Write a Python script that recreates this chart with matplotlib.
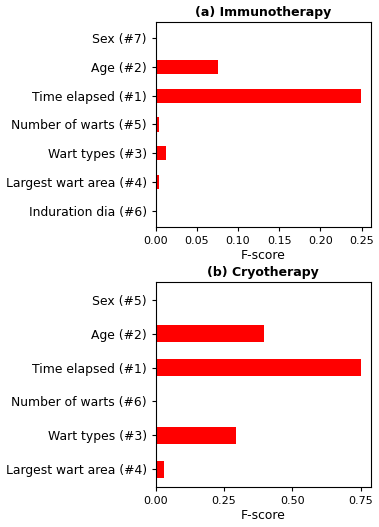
import matplotlib
matplotlib.use("Agg")
import matplotlib.pyplot as plt

immuno_labels = ["Sex (#7)", "Age (#2)", "Time elapsed (#1)", "Number of warts (#5)",
                 "Wart types (#3)", "Largest wart area (#4)", "Induration dia (#6)"]
immuno_values = [0.0, 0.076, 0.249, 0.0045, 0.013, 0.0045, 0.001]
immuno_ticks = [0.00, 0.05, 0.10, 0.15, 0.20, 0.25]

cryo_labels = ["Sex (#5)", "Age (#2)", "Time elapsed (#1)", "Number of warts (#6)",
               "Wart types (#3)", "Largest wart area (#4)"]
cryo_values = [0.005, 0.395, 0.75, 0.004, 0.295, 0.032]
cryo_ticks = [0.00, 0.25, 0.50, 0.75]

W, H = 379, 527
fig = plt.figure(figsize=(W / 100, H / 100), dpi=100)

def make(ax, labels, values, ticks, title):
    y = list(range(len(labels)))
    ax.barh(y, values, height=0.5, color="#ff0000")
    ax.set_yticks(y)
    ax.set_yticklabels(labels, fontsize=8.9)
    ax.invert_yaxis()
    ax.set_xlim(0, max(values) * 1.05)
    ax.set_xticks(ticks)
    ax.set_xticklabels([f"{t:.2f}" for t in ticks], fontsize=8)
    ax.set_xlabel("F-score", fontsize=8.9, labelpad=2)
    ax.set_title(title, fontsize=9, fontweight="bold", pad=4)
    ax.tick_params(length=3, width=0.8)
    for s in ax.spines.values():
        s.set_linewidth(0.8)

ax1 = fig.add_axes([155.7 / W, 1 - 227 / H, (371 - 155.7) / W, (227 - 22) / H])
make(ax1, immuno_labels, immuno_values, immuno_ticks, "(a) Immunotherapy")
ax2 = fig.add_axes([155.7 / W, 1 - 487 / H, (371 - 155.7) / W, (487 - 282) / H])
make(ax2, cryo_labels, cryo_values, cryo_ticks, "(b) Cryotherapy")

fig.savefig("out.png", dpi=100)
